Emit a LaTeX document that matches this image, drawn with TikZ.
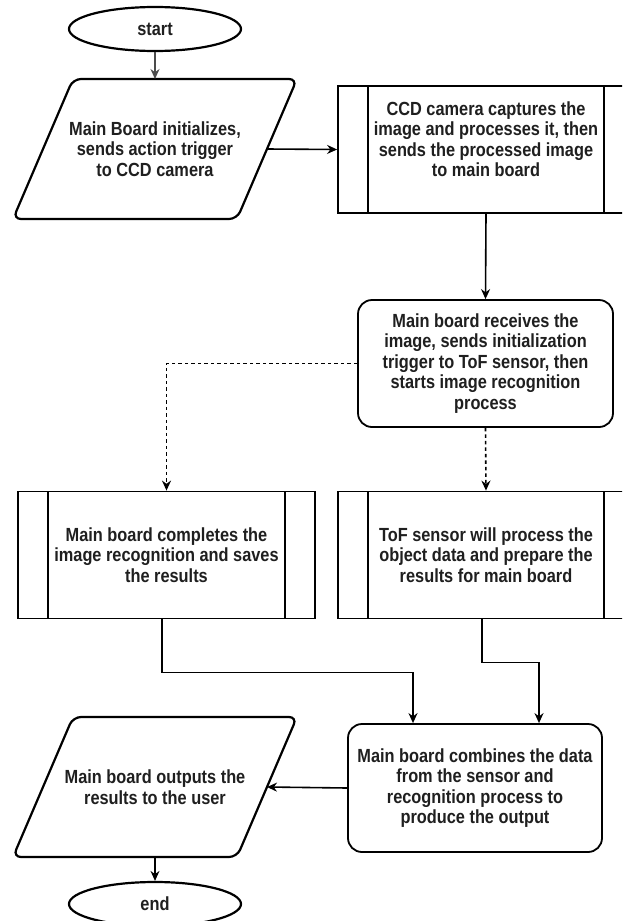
\documentclass[tikz,border=0pt]{standalone}
\usepackage{fontspec}
\setmainfont[FakeStretch=0.86]{Liberation Sans}
\usetikzlibrary{shapes.geometric,arrows.meta,calc}
\begin{document}
\begin{tikzpicture}[x=1pt,y=-1pt,
  txt/.style={font=\bfseries\fontsize{19}{20.5}\selectfont, align=center, text=black!88},
  term/.style={ellipse, draw, line width=2.2pt, minimum width=172pt, minimum height=44pt, inner sep=0pt, txt},
  iotext/.style={rectangle, minimum width=224pt, minimum height=140pt, inner sep=0pt, outer sep=0pt, txt},
  iostroke/.style={line width=2.2pt, rounded corners=8pt},
  proc/.style={rectangle, draw, line width=1.8pt, minimum width=296pt, minimum height=127pt, inner sep=0pt, txt,
    path picture={\draw[line width=1.8pt]
      ([xshift=30pt]path picture bounding box.north west) -- ([xshift=30pt]path picture bounding box.south west)
      ([xshift=-30pt]path picture bounding box.north east) -- ([xshift=-30pt]path picture bounding box.south east);}},
  rbox/.style={rectangle, rounded corners=14pt, draw, line width=1.8pt, minimum width=254pt, minimum height=127pt, inner sep=0pt, txt},
  conn/.style={line width=1.6pt, -{Stealth[length=10pt,width=9pt]}},
  dconn/.style={conn, dash pattern=on 3.5pt off 3pt}
]
\useasboundingbox (0,0) rectangle (622,921);
\fill[white] (0,0) rectangle (622,921);
\clip (0,0) rectangle (622,921);

\node[term] (start) at (155,29) {start};
\node[iotext] (p1) at (155,149) {Main Board initializes,\\sends action trigger\\to CCD camera};
\draw[iostroke] ($(p1)+(-142,70)$) -- ($(p1)+(-82,-70)$) -- ($(p1)+(142,-70)$) -- ($(p1)+(82,70)$) -- cycle;
\coordinate (p1e) at ($(p1)+(112,0)$);
\node[proc] (b1) at (486,149.5) {};
\node[txt] (b1t) at (486,139) {CCD camera captures the\\image and processes it, then\\sends the processed image\\to main board};
\node[rbox, minimum width=255pt] (b2) at (485.5,363.5) {Main board receives the\\image, sends initialization\\trigger to ToF sensor, then\\starts image recognition\\process};
\node[proc, minimum width=297pt] (b3) at (166.5,555) {Main board completes the\\image recognition and saves\\the results};
\node[proc] (b4) at (486,555) {ToF sensor will process the\\object data and prepare the\\results for main board};
\node[rbox, minimum height=128pt] (b5) at (475,788) {Main board combines the data\\from the sensor and\\recognition process to\\produce the output};
\node[iotext] (p2) at (155,787) {Main board outputs the\\results to the user};
\draw[iostroke] ($(p2)+(-142,70)$) -- ($(p2)+(-82,-70)$) -- ($(p2)+(142,-70)$) -- ($(p2)+(82,70)$) -- cycle;
\coordinate (p2e) at ($(p2)+(112,0)$);
\node[term] (end) at (155,904) {end};

\draw[conn, line width=1.3pt, draw=black!70] (start) -- (p1.north);
\draw[conn] (p1e) -- (b1.west);
\draw[conn] (b1.south) -- (b2.north);
\draw[dconn] (b2.west) -| (b3.north);
\draw[dconn] (b2.south) -- (b4.north);
\draw[conn] ([xshift=-4.5pt]b3.south) -- ++(0,53) -| ([xshift=-62pt]b5.north);
\draw[conn] ([xshift=-4pt]b4.south) -- ++(0,43) -| ([xshift=64pt]b5.north);
\draw[conn] (b5.west) -- (p2e);
\draw[conn, line width=1.4pt] (p2.south) -- (end.north);
\end{tikzpicture}
\end{document}
